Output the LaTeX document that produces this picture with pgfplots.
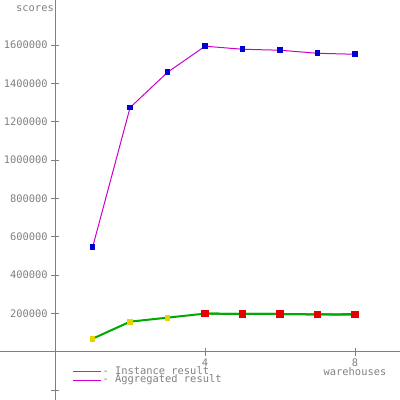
\documentclass[border=0pt]{standalone}
\usepackage{pgfplots}
\pgfplotsset{compat=1.18}
\usepackage{fontspec}
\setmainfont{DejaVu Sans Mono}
\definecolor{axgray}{RGB}{128,128,128}
\definecolor{mag}{RGB}{204,0,204}
\definecolor{mblue}{RGB}{0,0,210}
\definecolor{gline}{RGB}{0,170,0}
\definecolor{myellow}{RGB}{230,210,0}
\definecolor{mred}{RGB}{230,0,0}
\begin{document}
\begin{tikzpicture}
\begin{axis}[
  scale only axis, width=300pt, height=300pt,
  xmin=-1.47, xmax=9.2, ymin=-251700, ymax=1835000,
  axis lines=middle,
  axis line style={axgray, -, line width=0.75pt},
  tick style={axgray, line width=0.75pt},
  tick align=center, major tick length=6pt,
  font=\fontsize{7.8}{9}\selectfont,
  xtick={4,8}, xticklabels={4,8},
  ytick={-200000,200000,400000,600000,800000,1000000,1200000,1400000,1600000},
  yticklabels={,200000,400000,600000,800000,1000000,1200000,1400000,1600000},
  ticklabel style={text=axgray},
  yticklabel style={xshift=1pt},
  xticklabel style={yshift=1pt},
  clip=false,
  legend style={at={(axis description cs:0.18,0.088)}, anchor=north west,
    draw=none, fill=none, font=\fontsize{7.8}{9}\selectfont, text=axgray,
    row sep=-3pt, inner sep=0pt, nodes={inner sep=1pt}},
  legend cell align=left,
  legend image code/.code={\draw[#1] (0pt,0pt) -- (16pt,0pt); \path (0pt,0pt) -- (21pt,0pt);},
]
\addlegendimage{gline, line width=0.75pt}
\addlegendentry{- Instance result}
\addlegendimage{mag, line width=0.75pt}
\addlegendentry{- Aggregated result}
\addplot[gline, line width=1.5pt, mark=none, forget plot] coordinates {
(1,68000) (2,157000) (3,178000) (4,199000) (5,197000) (6,197000) (7,195000) (8,196000)};
\addplot[mag, line width=0.75pt, mark=square*, mark size=1.8pt, mark options={mblue, fill=mblue}, forget plot] coordinates {
(1,545000) (2,1274000) (3,1458000) (4,1594000) (5,1578000) (6,1573000) (7,1557000) (8,1552000)};
\addplot[gline, line width=0.75pt, mark=square*, mark size=1.8pt, mark options={myellow, fill=myellow}, forget plot] coordinates {
(1,68000) (2,157000) (3,178000)};
\addplot[gline, line width=1.5pt, mark=square*, mark size=2pt, mark options={mred, fill=mred}, forget plot] coordinates {
(4,199000) (5,197000) (6,197000) (7,195000) (8,193000)};
\node[text=axgray, anchor=north, inner sep=1pt] at (axis description cs:0.0875,0.99) {scores};
\node[text=axgray, anchor=north] at (axis description cs:0.8875,0.092) {warehouses};
\end{axis}
\pgfresetboundingbox
\path (0,0) rectangle (300pt,300pt);
\end{tikzpicture}
\end{document}
